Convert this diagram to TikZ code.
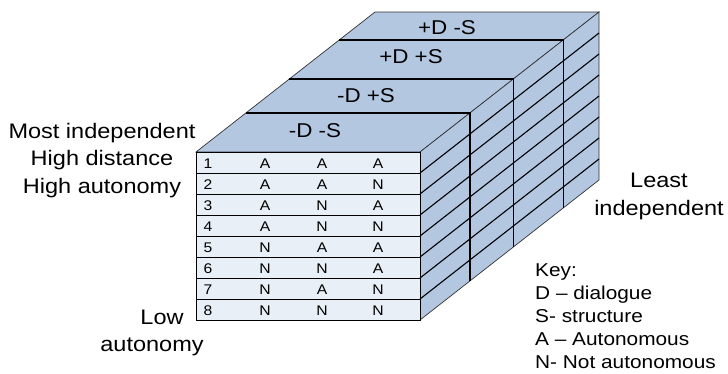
\documentclass[tikz,border=0pt]{standalone}
\usepackage{fontspec}
\setmainfont{Liberation Sans}[FakeStretch=1.12]
\begin{document}
\begin{tikzpicture}[x=1pt,y=-1pt,
  face/.style={fill=slabblue,draw=black!80,line width=0.7pt,line join=miter},
  front/.style={fill=rowblue,draw=black,line width=1pt},
  divider/.style={draw=black,line width=1.3pt},
  rowline/.style={draw=black,line width=1.1pt},
  bigtext/.style={font=\fontsize{21}{27.5}\selectfont,align=center,inner sep=0pt},
  slabtext/.style={font=\fontsize{20}{24}\selectfont,inner sep=0pt},
  keytext/.style={font=\fontsize{18.6}{23}\selectfont,align=left,inner sep=0pt,anchor=north west},
  celltext/.style={font=\fontsize{14}{15}\selectfont,inner sep=0pt}]
\definecolor{slabblue}{RGB}{180,199,225}
\definecolor{rowblue}{RGB}{233,239,247}
\useasboundingbox (0,0) rectangle (728,373);

% depth offset of the box: (179,-140)
\def\dx{1.2786}
% top face and right face
\path[face] (196,152) -- (375,12) -- (599,12) -- (420,152) -- cycle;
\path[face] (420,152) -- (599,12) -- (599,180) -- (420,320) -- cycle;

% slab dividers on the top and right faces
\foreach \d in {39,73,112}{
  \draw[divider] ({196+\dx*\d},{152-\d}) -- ({420+\dx*\d},{152-\d}) -- ({420+\dx*\d},{320-\d});
}

% rows on the front face and their continuation on the right face
\foreach \i [evaluate=\i as \ya using {152+21*(\i-1)}, evaluate=\i as \yb using {152+21*\i}] in {1,...,8}{
  \draw[front] (196,\ya) rectangle (420,\yb);
}
\foreach \i [evaluate=\i as \y using {152+21*\i}] in {1,...,7}{
  \draw[rowline] (420,\y) -- (599,{\y-140});
}

% slab labels
\node[slabtext] (s1) at (447,28) {+D -S};
\node[slabtext] (s2) at (411,57) {+D +S};
\node[slabtext] (s3) at (366,96) {-D +S};
\node[slabtext] (s4) at (315,131) {-D -S};

% row contents
\foreach \n/\a/\b/\c [count=\i] in {1/A/A/A,2/A/A/N,3/A/N/A,4/A/N/N,5/N/A/A,6/N/N/A,7/N/A/N,8/N/N/N}{
  \pgfmathsetmacro{\yc}{152+21*\i-9.5}
  \node[celltext] (r\i n) at (208,\yc) {\n};
  \node[celltext] (r\i a) at (265,\yc) {\a};
  \node[celltext] (r\i b) at (322,\yc) {\b};
  \node[celltext] (r\i c) at (378,\yc) {\c};
}

% side labels (base anchor sits on the last line)
\node[bigtext,anchor=base] (most) at (102,193) {Most independent\\High distance\\High autonomy};
\node[bigtext,anchor=base] (low) at (162,324) {Low};
\node[bigtext,anchor=base] (lowaut) at (152,351) {autonomy};
\node[bigtext,anchor=base] (least) at (659,215) {Least\\independent};

% key
\node[keytext] (key) at (535,263) {Key:\\D -- dialogue\\S- structure\\A -- Autonomous\\N- Not autonomous};
\end{tikzpicture}
\end{document}
